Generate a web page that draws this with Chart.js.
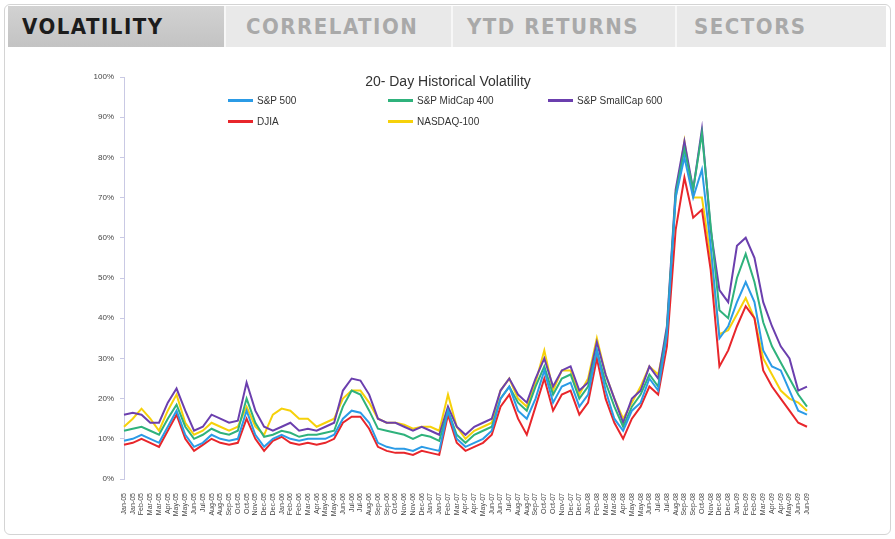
<!DOCTYPE html>
<html>
<head>
<meta charset="utf-8">
<script src="https://cdn.jsdelivr.net/npm/chart.js@4.4.1/dist/chart.umd.min.js"></script>
<style>
  html, body { margin: 0; padding: 0; background: #fff; }
  #wrap { position: relative; width: 895px; height: 539px; overflow: hidden; font-family: Arial, "Liberation Sans", sans-serif; }
  #panel { position: absolute; left: 4px; top: 4px; width: 885px; height: 529px; border: 1px solid #d4d4d4; border-radius: 6px; background: #fff; }
  #tabs { position: absolute; left: 8px; top: 6px; width: 878px; height: 41px; background: #e9e9e9; }
  .tab { position: absolute; top: 0; height: 41px; line-height: 41px; font-family: "Liberation Sans Narrow", "DejaVu Sans Condensed", sans-serif; font-weight: bold; font-size: 22px; letter-spacing: 1.5px; color: #a9a9a9; padding-left: 14px; box-sizing: border-box; border-right: 2px solid #f7f7f7; }
  .tab.active { background: linear-gradient(#d2d2d2, #c3c3c3); color: #1c1c1c; }
  canvas { position: absolute; left: 0; top: 0; }
  #title { position: absolute; left: 300px; width: 296px; top: 73px; text-align: center; font-size: 14px; color: #333; }
  .lg { position: absolute; font-size: 10px; color: #333; height: 12px; line-height: 12px; white-space: nowrap; }
  .lg span.sw { display: inline-block; width: 25px; height: 3px; vertical-align: middle; margin-right: 4px; margin-top: -2px; }
</style>
</head>
<body>
<div id="wrap">
  <div id="panel"></div>
  <div id="tabs">
    <div class="tab active" style="left:0;width:218px;">VOLATILITY</div>
    <div class="tab" style="left:218px;width:227px;padding-left:20px;">CORRELATION</div>
    <div class="tab" style="left:445px;width:224px;padding-left:14px;">YTD RETURNS</div>
    <div class="tab" style="left:669px;width:209px;padding-left:17px;border-right:none;">SECTORS</div>
  </div>
  <canvas id="volChart" width="895" height="539"></canvas>
  <div id="title">20- Day Historical Volatility</div>
  <div id="legend"></div>
</div>
<script>
// tick labels (every 3 weeks, Jan 2005 - Jun 2009)
const labels = [
  'Jan-05','Jan-05','Feb-05','Mar-05','Mar-05','Apr-05','May-05','May-05','Jun-05','Jul-05',
  'Aug-05','Aug-05','Sep-05','Oct-05','Oct-05','Nov-05','Dec-05','Dec-05','Jan-06','Feb-06',
  'Feb-06','Mar-06','Apr-06','May-06','May-06','Jun-06','Jul-06','Jul-06','Aug-06','Sep-06',
  'Sep-06','Oct-06','Nov-06','Nov-06','Dec-06','Jan-07','Jan-07','Feb-07','Mar-07','Apr-07',
  'Apr-07','May-07','Jun-07','Jun-07','Jul-07','Aug-07','Aug-07','Sep-07','Oct-07','Oct-07',
  'Nov-07','Dec-07','Dec-07','Jan-08','Feb-08','Mar-08','Mar-08','Apr-08','May-08','May-08',
  'Jun-08','Jul-08','Jul-08','Aug-08','Sep-08','Sep-08','Oct-08','Nov-08','Dec-08','Dec-08',
  'Jan-09','Feb-09','Feb-09','Mar-09','Apr-09','Apr-09','May-09','Jun-09','Jun-09'
];

const seriesNames = ['S&P 500', 'S&P MidCap 400', 'S&P SmallCap 600', 'DJIA', 'NASDAQ-100'];
const seriesColors = ['#2b9be6', '#2fb27c', '#6b3fae', '#e8262b', '#f6d10a'];

// 20-day historical volatility, %
const sp500 = [
  9.5,10,11,10,9,13,17,11,8,9, 11,10,9.5,10,17,11,8,10,11,10,
  9.5,10,10,10,11,15,17,16.5,14,9, 8,7.5,7.5,7,8,7.5,7,17,10,8,
  9,10,12,20,23,17,15,20,27,19, 23,24,18,21,32,22,15,12,17,19,
  25,22,36,70,80,70,77,58,35,38, 44,49,44,32,28,27,22,17,16
];
const midcap400 = [
  12,12.5,13,12,11,15,18.5,13,10,11, 12.5,11.5,11,12,20,14,10.5,11,12,11.5,
  10.5,11,11,11.5,12,18,22,21,17,12.5, 12,11.5,11,10,11,10.5,9.5,17,11,9,
  11,12,13,20,23,19,17,23,28,21, 25,26,20,23,32,24,18,13,18,21,
  26,23,37,71,82,72,86,63,42,40, 50,56,49,39,33,29,25,21,18
];
const smallcap600 = [
  16,16.5,16,14,14,19,22.5,17,12,13, 16,15,14,14.5,24,17,13,12,13,14,
  12,12.5,12,13,14,22,25,24.5,21,15, 14,14,13,12,13,12,11,18,13,11,
  13,14,15,22,25,21,19,25,30,23, 27,28,22,24,34,26,20,14,20,22,
  28,25,38,72,84,72,87,62,47,44, 58,60,55,44,38,33,30,22,23
];
const djia = [
  8.5,9,10,9,8,12,16,10,7,8.5, 10,9,8.5,9,15,10,7,9.5,10.5,9,
  8.5,9,8.5,9,10,14,15.5,15.5,12.5,8, 7,6.5,6.5,6,7,6.5,6,16,9,7,
  8,9,11,18,21,15,11,18,25,17, 21,22,16,19,30,20,14,10,15,18,
  23,21,33,62,75,65,67,52,28,32, 38,43,40,27,23,20,17,14,13
];
const nasdaq100 = [
  13,15,17.5,15,12,17,21,14,11,12, 14,13,12,13,18,13,11,16,17.5,17,
  15,15,13,14,15,20,22,22,19,15, 14,14,13.5,12.5,13,13,12,21,13,10,
  12,13,14,22,25,20,18,24,32,22, 27,27,21,25,35,26,20,15,19,23,
  28,26,36,70,84,70,70,55,36,37, 41,45,40,30,26,22,20,19,17
];

const yTicks = [0, 10, 20, 30, 40, 50, 60, 70, 80, 90, 100];

const seriesData = [sp500, midcap400, smallcap600, djia, nasdaq100];

const datasets = seriesNames.map((name, i) => ({
  label: name,
  data: seriesData[i],
  borderColor: seriesColors[i],
  backgroundColor: seriesColors[i],
  borderWidth: 2,
  pointRadius: 0,
  tension: 0,
  fill: false
}));

// legend laid out like the original 3-column grid
const legendEl = document.getElementById('legend');
const legendCols = [228, 388, 548];
const legendRows = [95, 116];
seriesNames.forEach((name, i) => {
  const div = document.createElement('div');
  div.className = 'lg';
  div.style.left = legendCols[i % 3] + 'px';
  div.style.top = legendRows[Math.floor(i / 3)] + 'px';
  div.innerHTML = '<span class="sw" style="background:' + seriesColors[i] + '"></span>' + name.replace(/&/g, '&amp;');
  legendEl.appendChild(div);
});

const ctx = document.getElementById('volChart').getContext('2d');
new Chart(ctx, {
  type: 'line',
  data: { labels: labels, datasets: datasets },
  options: {
    responsive: false,
    animation: false,
    layout: { padding: { left: 78, right: 88, top: 77, bottom: 4 } },
    plugins: { legend: { display: false }, tooltip: { enabled: false }, title: { display: false } },
    scales: {
      x: {
        grid: { display: false },
        border: { display: false },
        afterFit: (scale) => { scale.height = 56; },
        ticks: {
          autoSkip: false,
          minRotation: 90,
          maxRotation: 90,
          padding: 6,
          color: '#444',
          font: { size: 7, family: 'Arial' }
        }
      },
      y: {
        min: 0,
        max: 100,
        afterFit: (scale) => { scale.width = 46; },
        afterBuildTicks: (scale) => { scale.ticks = yTicks.map(v => ({ value: v })); },
        border: { display: true, color: '#c9c9e4', width: 1 },
        grid: { display: true, drawOnChartArea: false, tickLength: 4, color: '#c9c9e4' },
        ticks: {
          color: '#444',
          padding: 6,
          font: { size: 8, family: 'Arial' },
          callback: (v) => v + '%'
        }
      }
    }
  }
});
</script>
</body>
</html>
